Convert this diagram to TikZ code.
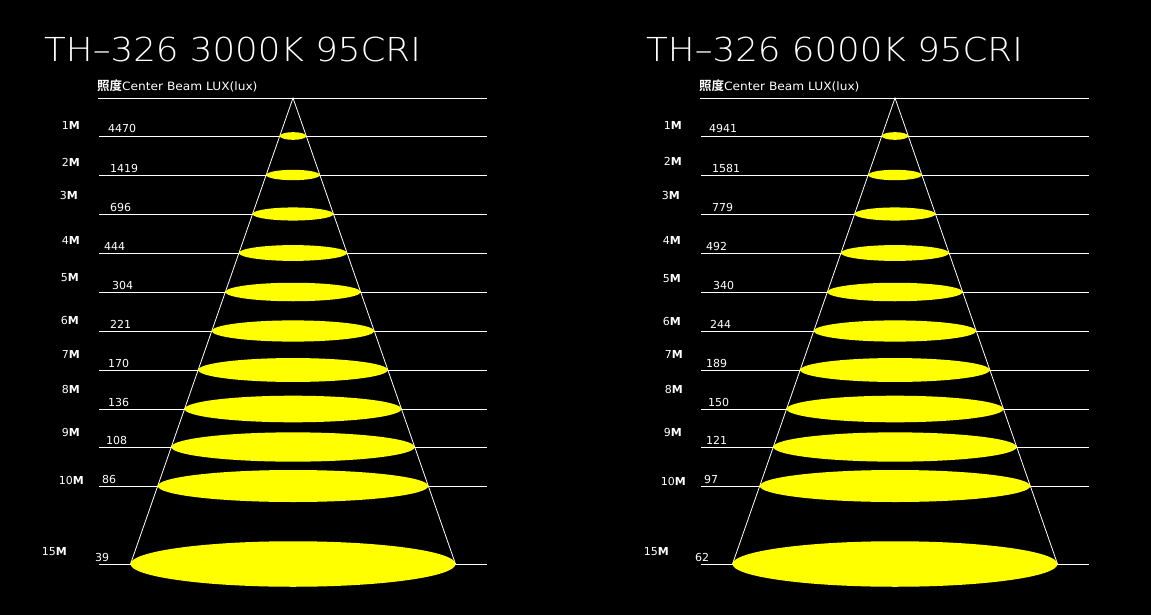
\documentclass[tikz,border=0pt]{standalone}
\usepackage{fontspec}
\setmainfont{DejaVu Sans}[UprightFont=* ExtraLight, BoldFont=* Bold]
\newfontfamily\regf{DejaVu Sans}
\newfontfamily\cjk{Noto Sans CJK SC}[BoldFont=* Bold]
\newfontfamily\boldf{DejaVu Sans Bold}
\definecolor{beamy}{RGB}{255,255,0}
\newcommand\beampanel[4]{%
  \begin{scope}[xshift=#1]
    \coordinate (#3-apex) at (293,98);
    \coordinate (#3-topl) at (98,98);
    \coordinate (#3-topr) at (487,98);
    \draw[wline] (#3-topl) -- (#3-topr);
    \foreach \k/\y/\nx/\val/\my/\mx in {#4}{
      \coordinate (#3-l\k) at (99,\y);
      \coordinate (#3-r\k) at (487,\y);
      \draw[wline] (#3-l\k) -- (#3-r\k);
    }
    \coordinate (#3-bl) at (130.5,564);
    \coordinate (#3-br) at (455.5,564);
    \draw[wline] (#3-bl) -- (#3-apex) -- (#3-br);
    \foreach \k/\y/\nx/\val/\my/\mx in {#4}{
      \pgfmathsetmacro\rx{0.3487*(\y-98)}
      \pgfmathsetmacro\ry{2.5+1.35*\k}
      \fill[beam] (293,\y) ellipse [x radius=\rx, y radius=\ry];
      \node[lux] (#3-n\k) at (\nx,\y-3) {\val};
      \node[mlab] (#3-m\k) at (\mx,\my) {\k{\boldf M}};
    }
    \node[title] (#3-title) at (44,62) {\scalebox{1.08}[1]{#2}};
    \node[head] (#3-head) at (97,91) {{\cjk\bfseries\fontsize{12.5}{13}\selectfont 照度}\scalebox{1.06}[1]{Center Beam LUX(lux)}};
  \end{scope}}
\begin{document}
\begin{tikzpicture}[x=1pt,y=-1pt,
  wline/.style={white, line width=0.8pt},
  beam/.style={fill=beamy},
  lux/.style={text=white, font=\regf\fontsize{11}{12}\selectfont, anchor=base west, inner sep=0},
  mlab/.style={text=white, font=\regf\fontsize{11}{12}\selectfont, anchor=east, inner sep=0},
  title/.style={text=white, font=\fontsize{33}{36}\selectfont, anchor=base west, inner sep=0},
  head/.style={text=white, font=\regf\fontsize{11.5}{12}\selectfont, anchor=base west, inner sep=0},
]
\fill[black] (0,0) rectangle (1151,615);
\useasboundingbox (0,0) rectangle (1151,615);
\beampanel{0pt}{TH–326 3000K 95CRI}{A}{1/136/108/4470/125.5/80, 2/175/110/1419/162/80, 3/214/110/696/195.5/78, 4/253/104/444/240/80, 5/292/112/304/278/79, 6/331/110/221/320/79, 7/370/108/170/354.5/80, 8/409/108/136/389/80, 9/447/106/108/432.5/80, 10/486/102/86/480.5/84, 15/564/95/39/552/67}
\beampanel{602pt}{TH–326 6000K 95CRI}{B}{1/136/107/4941/125.5/80, 2/175/110/1581/161/80, 3/214/110/779/195.5/78, 4/253/104/492/240/79, 5/292/111/340/279/79, 6/331/108/244/321/79, 7/370/104/189/354.5/81, 8/409/106/150/389/81, 9/447/104/121/432.5/80, 10/486/102/97/481/84, 15/564/93/62/552/67}
\end{tikzpicture}
\end{document}
